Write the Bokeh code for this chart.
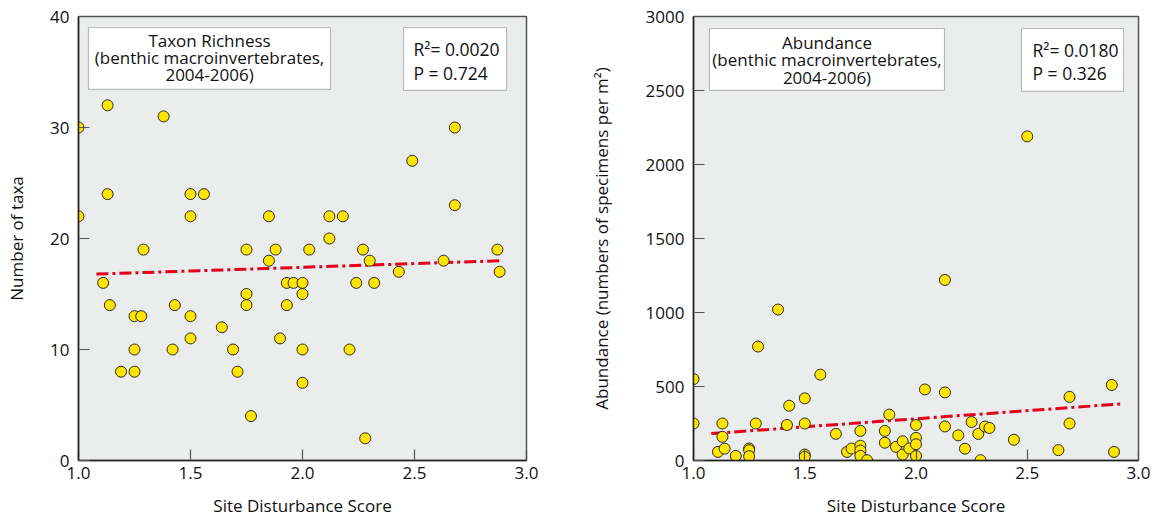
from bokeh.plotting import figure
from bokeh.layouts import row
from bokeh.models import BoxAnnotation, Label, FixedTicker, Range1d
from bokeh.embed import file_html
from bokeh.resources import INLINE

FONT = "Open Sans"

# Axis ticks
score_ticks = [1.0, 1.5, 2.0, 2.5, 3.0]
score_tick_labels = ["1.0", "1.5", "2.0", "2.5", "3.0"]
richness_ticks = [0, 10, 20, 30, 40]
abundance_ticks = [0, 500, 1000, 1500, 2000, 2500, 3000]

# Taxon richness per site
richness_score = [1.00, 1.00, 1.13, 1.13, 1.38, 1.50, 1.56, 1.50, 1.85, 2.68,
                  2.49, 2.68, 2.12, 2.18, 2.12, 1.29, 1.75, 1.88, 2.03, 1.85,
                  1.11, 1.93, 1.96, 2.00, 1.75, 2.00, 1.14, 1.43, 1.75, 1.93,
                  1.25, 1.28, 1.50, 1.64, 1.50, 1.90, 1.25, 1.42, 1.69, 2.00,
                  1.19, 1.25, 1.71, 2.00, 1.77, 2.27, 2.87, 2.30, 2.63, 2.43,
                  2.88, 2.24, 2.32, 2.21, 2.28]
richness_taxa = [30, 22, 32, 24, 31, 24, 24, 22, 22, 30,
                 27, 23, 22, 22, 20, 19, 19, 19, 19, 18,
                 16, 16, 16, 16, 15, 15, 14, 14, 14, 14,
                 13, 13, 13, 12, 11, 11, 10, 10, 10, 10,
                 8, 8, 8, 7, 4, 19, 19, 18, 18, 17,
                 17, 16, 16, 10, 2]

# Abundance (specimens per m2) per site
abundance_score = [1.00, 1.00, 1.11, 1.13, 1.13, 1.14, 1.19, 1.25, 1.25, 1.25,
                   1.28, 1.29, 1.38, 1.42, 1.43, 1.50, 1.50, 1.50, 1.50, 1.57,
                   1.64, 1.69, 1.71, 1.75, 1.75, 1.75, 1.75, 1.78, 1.86, 1.86,
                   1.88, 1.91, 1.94, 1.94, 1.97, 2.00, 2.00, 2.00, 2.00, 2.04,
                   2.13, 2.13, 2.13, 2.19, 2.22, 2.25, 2.28, 2.29, 2.31, 2.33,
                   2.44, 2.50, 2.64, 2.69, 2.69, 2.88, 2.89]
abundance_count = [550, 250, 58, 250, 160, 80, 31, 81, 70, 29,
                   250, 770, 1020, 240, 370, 420, 250, 40, 25, 580,
                   180, 58, 81, 200, 100, 67, 31, 2, 200, 120,
                   310, 92, 130, 40, 81, 240, 153, 110, 31, 480,
                   460, 1220, 230, 170, 80, 260, 180, 2, 230, 220,
                   140, 2190, 70, 430, 250, 510, 58]

# Least-squares lines: (intercept, slope) and x extent
richness_fit = (16.08, 0.663)
richness_fit_span = [1.08, 2.89]
abundance_fit = (64.0, 109.0)
abundance_fit_span = [1.08, 2.93]

richness_title = ["Taxon Richness", "(benthic macroinvertebrates,", "2004-2006)"]
richness_stats = ["R\u00b2= 0.0020", "P = 0.724"]
abundance_title = ["Abundance", "(benthic macroinvertebrates,", "2004-2006)"]
abundance_stats = ["R\u00b2= 0.0180", "P = 0.326"]


def make_panel(width, border_left, border_right, y_max, y_ticks, y_label,
               xs, ys, fit, fit_span, label_standoff):
    p = figure(width=width, height=519, output_backend="svg",
               toolbar_location=None,
               x_range=Range1d(1.0, 3.0), y_range=Range1d(0, y_max),
               min_border_left=border_left, min_border_right=border_right,
               min_border_top=16, min_border_bottom=58)
    p.background_fill_color = "#ebecec"
    p.border_fill_color = "white"
    p.outline_line_color = "#555555"
    p.outline_line_width = 1.5
    p.grid.visible = False

    p.xaxis.ticker = FixedTicker(ticks=score_ticks)
    p.xaxis.major_label_overrides = dict(zip(score_ticks, score_tick_labels))
    p.yaxis.ticker = FixedTicker(ticks=y_ticks)
    p.xaxis.axis_label = "Site Disturbance Score"
    p.yaxis.axis_label = y_label
    for ax in (p.xaxis, p.yaxis):
        ax.axis_line_color = "#222222"
        ax.axis_line_width = 1.5
        ax.major_tick_in = 11
        ax.major_tick_out = 0
        ax.major_tick_line_color = "#555555"
        ax.major_tick_line_width = 1.2
        ax.minor_tick_line_color = None
        ax.major_label_text_font = FONT
        ax.major_label_text_font_size = "17px"
        ax.major_label_text_color = "#111111"
        ax.axis_label_text_font = FONT
        ax.axis_label_text_font_size = "17px"
        ax.axis_label_text_font_style = "normal"
        ax.axis_label_text_color = "#111111"
    p.xaxis.major_label_standoff = 6
    p.xaxis.axis_label_standoff = 12
    p.yaxis.major_label_standoff = 9
    p.yaxis.axis_label_standoff = label_standoff

    b, m = fit
    p.line(x=fit_span, y=[b + m * x for x in fit_span],
           line_color="#e2001a", line_width=3, line_dash="12 4 3 4")
    p.scatter(x=xs, y=ys, size=11, fill_color="#ffe500",
              line_color="#2a2a2a", line_width=1)
    return p


def add_box(p, left, right, bottom, top):
    p.add_layout(BoxAnnotation(left=left, right=right, bottom=bottom, top=top,
                               fill_color="white", fill_alpha=1.0,
                               line_color="#333333", line_width=1.2))


def add_lines(p, x, ys, lines, align, size):
    for yy, txt in zip(ys, lines):
        p.add_layout(Label(x=x, y=yy, text=txt, text_align=align,
                           text_baseline="middle", text_font=FONT,
                           text_font_size=size, text_color="#111111"))


left = make_panel(560, 78, 34, 40, richness_ticks, "Number of taxa",
                  richness_score, richness_taxa, richness_fit,
                  richness_fit_span, 19)
add_box(left, 1.0446, 2.125, 33.44, 39.01)
add_lines(left, 1.585, [37.85, 36.32, 34.80], richness_title, "center", "17px")
add_box(left, 2.451, 2.911, 33.35, 39.01)
add_lines(left, 2.4955, [37.03, 34.88], richness_stats, "left", "17.5px")

right = make_panel(595, 133, 17, 3000, abundance_ticks,
                   "Abundance (numbers of specimens per m\u00b2)",
                   abundance_score, abundance_count, abundance_fit,
                   abundance_fit_span, 30)
add_box(right, 1.0719, 2.128, 2501, 2919)
add_lines(right, 1.6, [2825, 2707, 2589], abundance_title, "center", "17px")
add_box(right, 2.474, 2.9326, 2494, 2919)
add_lines(right, 2.5236, [2771, 2616], abundance_stats, "left", "17.5px")

layout = row(left, right)
open("out.html", "w").write(file_html(layout, INLINE))
